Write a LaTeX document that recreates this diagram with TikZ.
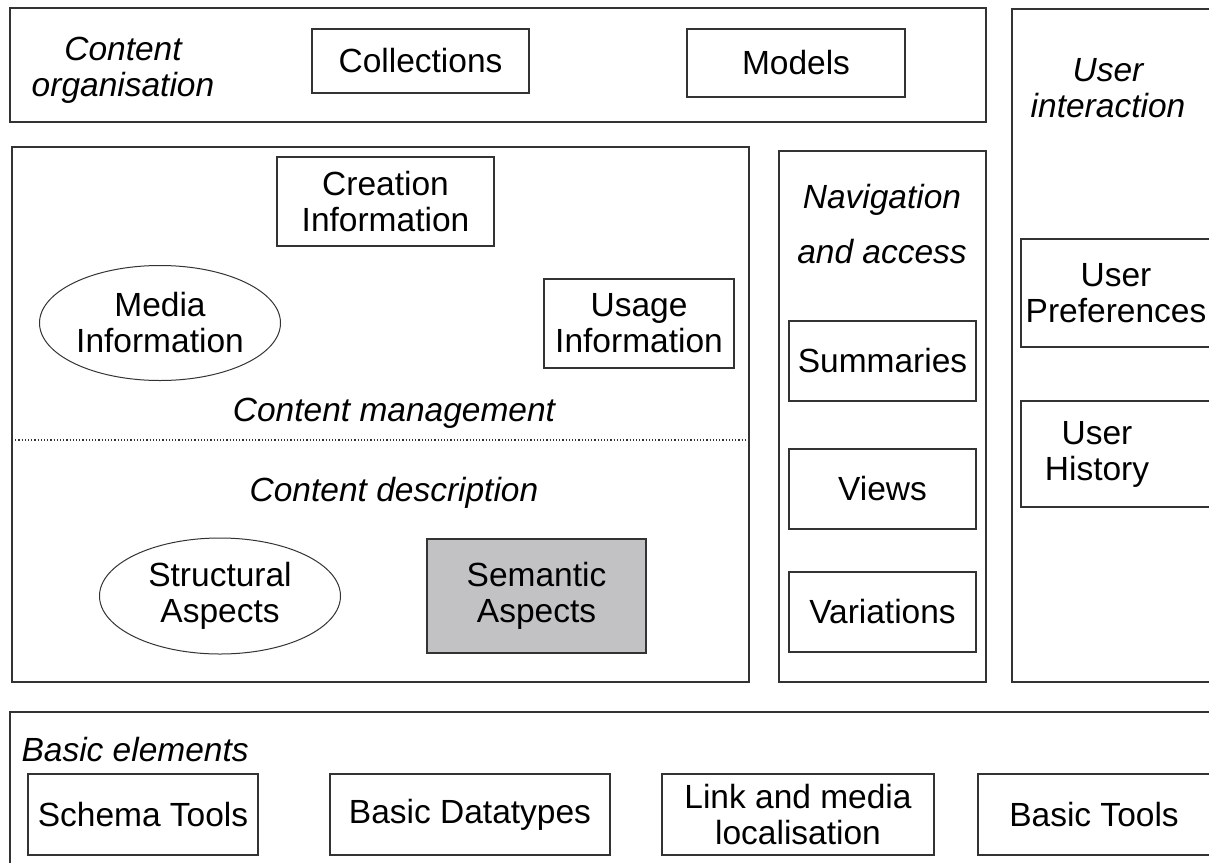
\documentclass[tikz,border=0pt]{standalone}
\usepackage{fontspec}
\setmainfont{Liberation Sans}
\usetikzlibrary{shapes.geometric}
\definecolor{edge}{HTML}{333333}
\definecolor{shade}{HTML}{C2C2C4}
\newcommand{\diagfont}{\fontsize{33.5}{36}\selectfont}

\begin{document}
\begin{tikzpicture}[x=1pt,y=-1pt,
    every node/.style={font=\diagfont},
    frame/.style={draw=edge,line width=1.5pt,inner sep=0pt},
    item/.style={draw=edge,line width=1.4pt,align=center,inner sep=0pt},
    oval/.style={ellipse,draw=edge,line width=1pt,align=center,inner sep=0pt},
    lbl/.style={font=\diagfont\itshape,align=center},
    sepline/.style={draw=edge,line width=1.2pt,dotted}]
  \useasboundingbox (0,0) rectangle (1209,862);
  \clip (0,0) rectangle (1209,862);
  \fill[white] (0,0) rectangle (1209,862);

  % content organisation
  \node[frame,minimum width=976pt,minimum height=114pt] (org) at (498,65) {};
  \node[lbl] (orglbl) at (123,70) {Content\\organisation};
  \node[item,minimum width=217pt,minimum height=64pt] (coll) at (420.5,61) {Collections};
  \node[item,minimum width=218pt,minimum height=68pt] (models) at (796,63) {Models};

  % content management / description
  \node[frame,minimum width=737pt,minimum height=535pt] (mgmt) at (380.5,414.5) {};
  \node[item,minimum width=217pt,minimum height=89pt] (creat) at (385.5,201.5) {Creation\\Information};
  \node[oval,minimum width=241pt,minimum height=115pt] (media) at (160,323) {Media\\Information};
  \node[item,minimum width=190pt,minimum height=89pt] (usage) at (639,323.5) {Usage\\Information};
  \node[lbl] (mgmtlbl) at (394,413) {Content management};
  \coordinate (sepl) at (12,440);
  \coordinate (sepr) at (749,440);
  \draw[sepline] (sepl) -- (sepr);
  \node[lbl] (desclbl) at (394,493) {Content description};
  \node[oval,minimum width=241pt,minimum height=116pt] (struct) at (220,596) {Structural\\Aspects};
  \node[item,fill=shade,minimum width=219pt,minimum height=114pt] (sem) at (536.5,596) {Semantic\\Aspects};

  % navigation and access
  \node[frame,minimum width=207pt,minimum height=531pt] (nav) at (882.5,416.5) {};
  \node[lbl] (navlbl) at (882,224.5) {Navigation\\[19pt]and access};
  \node[item,minimum width=187pt,minimum height=80pt] (summ) at (882.5,361) {Summaries};
  \node[item,minimum width=187pt,minimum height=80pt] (views) at (882.5,489) {Views};
  \node[item,minimum width=187pt,minimum height=80pt] (vari) at (882.5,612) {Variations};

  % user interaction
  \node[frame,minimum width=228pt,minimum height=673pt] (user) at (1126,345.5) {};
  \node[lbl] (userlbl) at (1108,88.5) {User\\interaction};
  \node[item,minimum width=190pt,minimum height=108pt] (prefs) at (1116,293) {User\\Preferences};
  \node[item,minimum width=190pt,minimum height=106pt] (hist) at (1116,454) {};
  \node (histtxt) at (1097,454) [align=center] {User\\History};

  % basic elements
  \node[frame,minimum width=1230pt,minimum height=188pt] (base) at (625,806) {};
  \node[lbl,anchor=west] (baselbl) at (18,750) {Basic elements};
  \node[item,minimum width=230pt,minimum height=81pt] (schema) at (143,814.5) {Schema Tools};
  \node[item,minimum width=280pt,minimum height=81pt] (dtypes) at (470,814.5) {Basic Datatypes};
  \node[item,minimum width=272pt,minimum height=81pt] (link) at (798,814.5) {Link and media\\localisation};
  \node[item,minimum width=232pt,minimum height=81pt] (btools) at (1094,814.5) {Basic Tools};
\end{tikzpicture}
\end{document}
